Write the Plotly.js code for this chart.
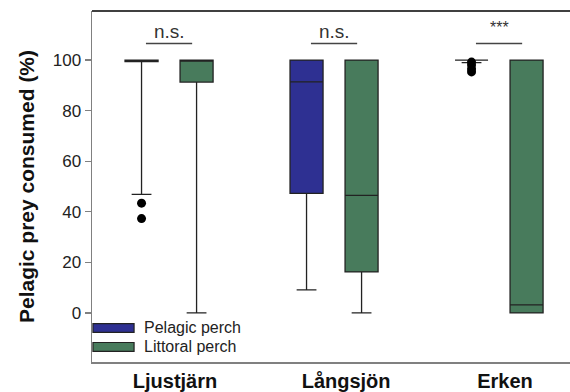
<!DOCTYPE html>
<html>
<head>
<meta charset="utf-8">
<script src="https://cdn.plot.ly/plotly-3.0.1.min.js"></script>
<style>html,body{margin:0;padding:0;background:#fff;}#chart{width:570px;height:392px;}</style>
</head>
<body>
<div id="chart"></div>
<script>
// ---- data ----
const lakes = ["Ljustjärn", "Långsjön", "Erken"];
const seriesNames = ["Pelagic perch", "Littoral perch"];
// Pelagic perch box statistics (% pelagic prey consumed)
const pelagicLower  = [46.9, 9.1, 99.0];
const pelagicQ1     = [99.4, 47.3, 100];
const pelagicMedian = [100, 91.4, 100];
const pelagicQ3     = [100, 100, 100];
const pelagicUpper  = [100, 100, 100];
// Littoral perch box statistics
const littoralLower  = [0, 0, 0];
const littoralQ1     = [91.3, 16.2, 0];
const littoralMedian = [100, 46.5, 3.2];
const littoralQ3     = [100, 100, 100];
const littoralUpper  = [100, 100, 100];
// Pelagic perch outliers
const outlierLake  = [0, 0, 2, 2, 2, 2];
const outlierValue = [43.4, 37.3, 99.2, 98.0, 96.5, 95.3];
// significance labels
const sigLabels = ["n.s.", "n.s.", "***"];
const yTicks = [0, 20, 40, 60, 80, 100];

// ---- style / layout constants ----
const FONT = "Liberation Sans, Arial, sans-serif";
const COLORS = ["#2e3092", "#487b5c"];
const BOXGAP = 0.333, GROUPGAP = 0.4;
const slot = (1 - BOXGAP) / 2;
const labelShift = [0.036, 0.073, 0.036];
const lakeIdx = lakes.map((_, i) => i);

const traces = [
  {
    type: "box", name: seriesNames[0], x: lakeIdx,
    q1: pelagicQ1, median: pelagicMedian, q3: pelagicQ3,
    lowerfence: pelagicLower, upperfence: pelagicUpper,
    boxpoints: false, whiskerwidth: 0.6, showlegend: false,
    fillcolor: COLORS[0], line: {color: "#222", width: 1.3},
    hoverinfo: "skip"
  },
  {
    type: "box", name: seriesNames[1], x: lakeIdx,
    q1: littoralQ1, median: littoralMedian, q3: littoralQ3,
    lowerfence: littoralLower, upperfence: littoralUpper,
    boxpoints: false, whiskerwidth: 0.6, showlegend: false,
    fillcolor: COLORS[1], line: {color: "#222", width: 1.3},
    hoverinfo: "skip"
  },
  {
    type: "scatter", mode: "markers", showlegend: false,
    x: outlierLake.map(i => i - slot / 2), y: outlierValue,
    marker: {color: "#000", size: 9}, hoverinfo: "skip"
  }
];

const sigY = 106.5;
const shapes = lakes.map((_, i) => ({
  type: "line", xref: "x", yref: "y",
  x0: i - 0.14, x1: i + 0.14, y0: sigY, y1: sigY,
  line: {color: "#444", width: 1.5}
}));
shapes.push({type: "line", xref: "paper", yref: "paper", x0: 0, x1: 1, y0: 1, y1: 1,
  line: {color: "#000", width: 1.5}});

const annotations = lakes.map((_, i) => ({
  x: i, y: sigY, xref: "x", yref: "y", yanchor: "bottom", showarrow: false,
  text: sigLabels[i], yshift: sigLabels[i] === "***" ? 6 : 0,
  font: {family: FONT, size: sigLabels[i] === "***" ? 16 : 19, color: "#333"}
}));

// legend (swatch rectangles + text), placed in paper coordinates
const legendX0 = 0.002, legendX1 = 0.088, legendTextX = 0.105;
const legendRowY = [0.097, 0.043];
const legendH = 0.025;
seriesNames.forEach((name, k) => {
  shapes.push({type: "rect", xref: "paper", yref: "paper",
    x0: legendX0, x1: legendX1, y0: legendRowY[k] - legendH / 2, y1: legendRowY[k] + legendH / 2,
    fillcolor: COLORS[k], line: {color: "#222", width: 1.2}});
  annotations.push({x: legendTextX, y: legendRowY[k], xref: "paper", yref: "paper",
    xanchor: "left", yanchor: "middle", showarrow: false, text: name,
    font: {family: FONT, size: 16, color: "#222"}});
});

const layout = {
  width: 570, height: 392,
  margin: {l: 92, r: 0, t: 11, b: 30, pad: 0},
  paper_bgcolor: "#fff", plot_bgcolor: "#fff",
  font: {family: FONT, color: "#222"},
  boxmode: "group", boxgap: BOXGAP, boxgroupgap: GROUPGAP,
  showlegend: false,
  xaxis: {
    range: [-0.467, 2.43], showgrid: false, zeroline: false,
    showline: true, linecolor: "#808080", linewidth: 1.5, ticks: "",
    tickvals: lakeIdx.map(i => i + labelShift[i]), ticktext: lakes,
    tickfont: {family: FONT, size: 20, weight: "bold", color: "#111"}
  },
  yaxis: {
    range: [-19.4, 119.4], showgrid: false, zeroline: false,
    showline: true, linecolor: "#808080", linewidth: 1.5,
    ticks: "outside", ticklen: 6, tickcolor: "#808080", tickwidth: 1.2,
    tickvals: yTicks, tickfont: {family: FONT, size: 17, color: "#222"},
    title: {text: "Pelagic prey consumed (%)", standoff: 12,
      font: {family: FONT, size: 21, weight: "bold", color: "#111"}}
  },
  shapes: shapes,
  annotations: annotations
};

Plotly.newPlot("chart", traces, layout, {displayModeBar: false, staticPlot: true});
</script>
</body>
</html>
